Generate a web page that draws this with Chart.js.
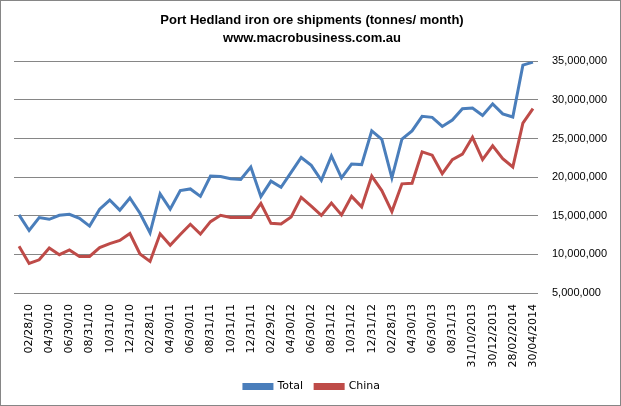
<!DOCTYPE html>
<html>
<head>
  <title>Port Hedland iron ore shipments</title>
  <script src="https://cdn.jsdelivr.net/npm/chart.js"></script>
  <style>
    html, body { margin: 0; padding: 0; background: #fff; }
    #marco { width: 619px; height: 404px; border: 1px solid #868686; }
  </style>
</head>
<body>
  <div id="marco"><canvas id="grafico" width="619" height="404"></canvas></div>

  <script>
    // meses (fin de mes), se muestra uno de cada dos
    const meses = [
      '01/31/10', '02/28/10', '03/31/10', '04/30/10', '05/31/10', '06/30/10',
      '07/31/10', '08/31/10', '09/30/10', '10/31/10', '11/30/10', '12/31/10',
      '01/31/11', '02/28/11', '03/31/11', '04/30/11', '05/31/11', '06/30/11',
      '07/31/11', '08/31/11', '09/30/11', '10/31/11', '11/30/11', '12/31/11',
      '01/31/12', '02/29/12', '03/31/12', '04/30/12', '05/31/12', '06/30/12',
      '07/31/12', '08/31/12', '09/30/12', '10/31/12', '11/30/12', '12/31/12',
      '01/31/13', '02/28/13', '03/31/13', '04/30/13', '05/31/13', '06/30/13',
      '07/31/13', '08/31/13', '30/09/2013', '31/10/2013', '30/11/2013', '30/12/2013',
      '31/01/2014', '28/02/2014', '31/03/2014', '30/04/2014'
    ];

    const total = [
      15120000, 13100000, 14770000, 14550000, 15070000, 15200000, 14680000, 13670000, 15860000, 17040000, 15730000, 17300000,
      15330000, 12800000, 17830000, 15860000, 18260000, 18480000, 17520000, 20140000, 20100000, 19790000, 19700000, 21320000,
      17480000, 19490000, 18700000, 20620000, 22550000, 21540000, 19600000, 22760000, 19920000, 21700000, 21630000, 26000000,
      24900000, 19920000, 24950000, 26000000, 27880000, 27750000, 26570000, 27400000, 28880000, 28970000, 28000000, 29500000,
      28200000, 27800000, 34520000, 34900000
    ];

    const china = [
      11050000, 8820000, 9300000, 10830000, 9960000, 10570000, 9740000, 9740000, 10880000, 11400000, 11800000, 12710000,
      10050000, 9090000, 12670000, 11180000, 12580000, 13900000, 12630000, 14240000, 15070000, 14770000, 14770000, 14770000,
      16600000, 14020000, 13940000, 14850000, 17390000, 16250000, 15050000, 16640000, 15120000, 17520000, 16160000, 20140000,
      18260000, 15550000, 19140000, 19220000, 23290000, 22850000, 20450000, 22280000, 22980000, 25170000, 22280000, 24070000,
      22410000, 21320000, 27000000, 28880000
    ];

    const yMin = 5000000;
    const yMax = 35000000;
    const yPaso = 5000000;

    const titulo = ['Port Hedland iron ore shipments (tonnes/ month)', 'www.macrobusiness.com.au'];

    const ctx = document.getElementById('grafico').getContext('2d');
    const chart = new Chart(ctx, {
      type: 'line',
      data: {
        labels: meses,
        datasets: [
          { label: 'Total', data: total, borderColor: '#4a7ebb', backgroundColor: '#4a7ebb',
            borderWidth: 3, pointRadius: 0, tension: 0, fill: false },
          { label: 'China', data: china, borderColor: '#be4b48', backgroundColor: '#be4b48',
            borderWidth: 3, pointRadius: 0, tension: 0, fill: false }
        ]
      },
      options: {
        responsive: false,
        animation: false,
        layout: { padding: { left: 13, right: 10, top: 0, bottom: 3 } },
        plugins: {
          title: {
            display: true,
            text: titulo,
            color: '#000',
            font: { family: 'Liberation Sans', size: 13, weight: 'bold', lineHeight: 1.4 },
            padding: { top: 10, bottom: 14 }
          },
          legend: {
            position: 'bottom',
            labels: {
              color: '#000',
              font: { family: 'DejaVu Sans', size: 11 },
              boxWidth: 28,
              boxHeight: 4,
              padding: 12
            }
          },
          tooltip: { enabled: false }
        },
        scales: {
          x: {
            offset: true,
            grid: { display: false, drawTicks: false },
            border: { display: false },
            ticks: {
              autoSkip: false,
              minRotation: 90,
              maxRotation: 90,
              padding: 11,
              color: '#000',
              font: { family: 'DejaVu Sans', size: 11 },
              callback: (v, i) => (i % 2 === 1 ? meses[i] : '')
            },
            afterFit: s => { s.height = 76; }
          },
          y: {
            position: 'right',
            min: yMin,
            max: yMax,
            grid: { color: '#868686', drawTicks: false },
            border: { display: false },
            ticks: {
              stepSize: yPaso,
              padding: 14,
              color: '#000',
              font: { family: 'Liberation Sans', size: 11 },
              callback: v => v.toLocaleString('en-US')
            },
            afterFit: s => { s.width = 72; }
          }
        }
      }
    });
  </script>
</body>
</html>
